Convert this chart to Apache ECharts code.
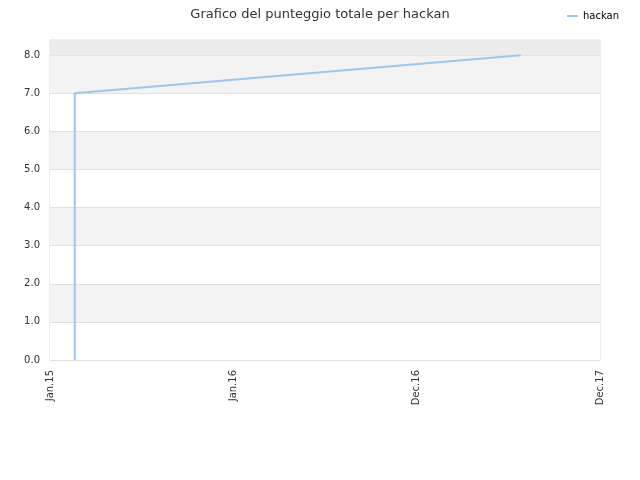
<!DOCTYPE html>
<html>
<head>
<meta charset="utf-8">
<script src="https://cdn.jsdelivr.net/npm/echarts@6/dist/echarts.min.js"></script>
<style>html,body{margin:0;padding:0;background:#fff}#c{width:640px;height:480px}</style>
</head>
<body>
<div id="c"></div>
<script>
var xTickLabels = ['Jan.15', 'Jan.16', 'Dec.16', 'Dec.17'];
var seriesName = 'hackan';
var xValues = [0.135, 0.135, 2.567];
var yValues = [0, 7, 8];
var yTicks = [0, 1, 2, 3, 4, 5, 6, 7, 8];

var data = xValues.map(function (x, i) { return [x, yValues[i]]; });
var chart = echarts.init(document.getElementById('c'), null, {renderer: 'canvas'});
var FONT = 'DejaVu Sans';
chart.setOption({
  animation: false,
  textStyle: {fontFamily: FONT},
  title: {
    text: 'Grafico del punteggio totale per hackan',
    left: 'center', top: 3,
    textStyle: {fontFamily: FONT, fontSize: 13, fontWeight: 'normal', color: '#333'}
  },
  legend: {
    right: 16, top: 6,
    itemWidth: 11, itemHeight: 2, itemGap: 8,
    icon: 'rect',
    textStyle: {fontFamily: FONT, fontSize: 10, color: '#000'},
    data: [seriesName]
  },
  grid: {left: 50, right: 40, top: 40, bottom: 120, show: true, borderColor: '#dddddd', borderWidth: 1},
  xAxis: {
    type: 'value', min: 0, max: 3, interval: 1,
    axisLine: {show: false}, axisTick: {show: false},
    splitLine: {show: false},
    axisLabel: {
      rotate: 90, margin: 10, fontSize: 10, color: '#333', fontFamily: FONT,
      formatter: function (v) { return xTickLabels[Math.round(v)]; }
    }
  },
  yAxis: {
    type: 'value', min: 0, max: 8.4, interval: 1,
    axisLine: {show: false}, axisTick: {show: false},
    axisLabel: {
      fontSize: 10, color: '#333', margin: 10, fontFamily: FONT,
      formatter: function (v) { return yTicks.indexOf(v) >= 0 ? v.toFixed(1) : ''; }
    },
    splitLine: {lineStyle: {color: '#e0e0e0', width: 1}},
    splitArea: {show: true, areaStyle: {color: ['#ffffff', '#f3f3f3']}}
  },
  series: [{
    name: seriesName,
    type: 'line',
    data: data,
    showSymbol: false,
    symbol: 'none',
    lineStyle: {color: '#9ac7f2', width: 2},
    itemStyle: {color: '#9ac7f2'},
    markArea: {
      silent: true,
      itemStyle: {color: '#ececec'},
      data: [[{yAxis: 8}, {yAxis: 8.4}]]
    }
  }]
});
</script>
</body>
</html>
